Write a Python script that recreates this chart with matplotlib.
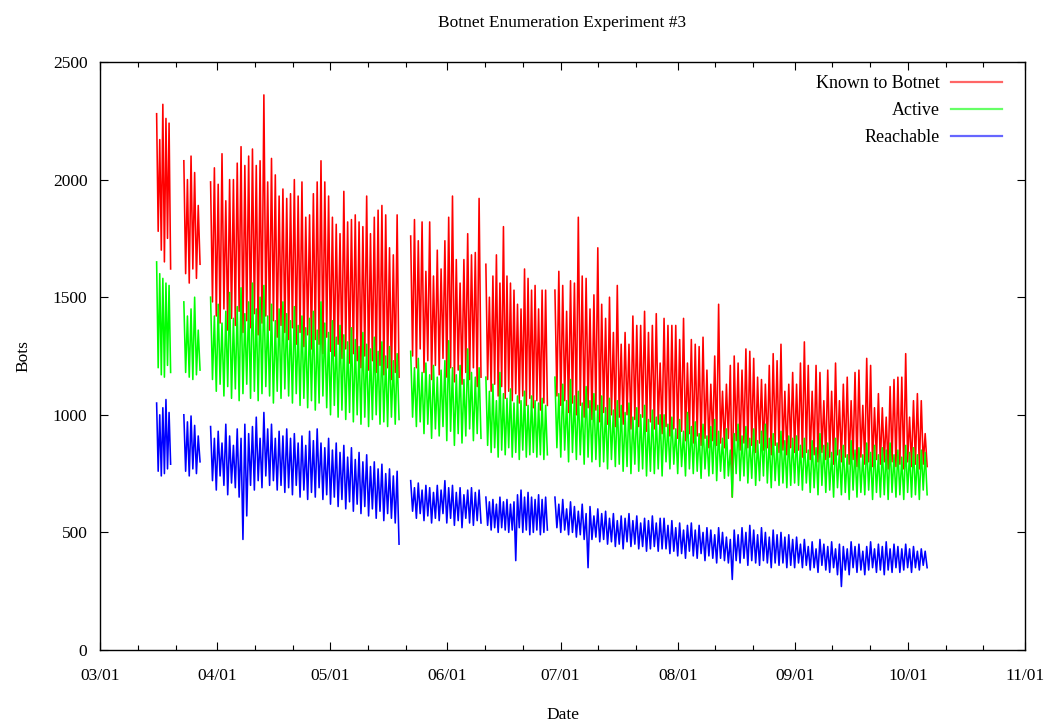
#!/usr/bin/env python3
"""
Botnet enumeration experiment #3 -- bots known / active / reachable over time.
Values are daily peak/trough pairs read off the original gnuplot figure.
"""

import numpy as np
import pandas as pd
import matplotlib
matplotlib.use("Agg")
import matplotlib.pyplot as plt
import matplotlib.dates as mdates

plt.rcParams["font.family"] = ["Liberation Serif", "DejaVu Serif"]

# ── DATA ────────────────────────────────────────────────────────────────────
# measurement runs (the crawler was down between them)
SEG_START = ["2008-03-16 00:00", "2008-03-23 05:00", "2008-03-30 07:00",
             "2008-05-22 07:00", "2008-06-11 05:00", "2008-06-29 12:00"]
SEG_END   = ["2008-03-19 17:00", "2008-03-27 12:00", "2008-05-19 05:00",
             "2008-06-09 22:00", "2008-06-27 12:00", "2008-10-06 02:00"]

# Known to Botnet: daily peaks / troughs per run
KNOWN_HI = [
    [2280, 2170, 2320, 2260, 2240],
    [2080, 2000, 2100, 2030, 1890],
    [1990, 2050, 1980, 2110, 1910, 2000, 2000, 2070, 2140, 2060, 2100, 2130, 2060, 2080, 2360, 1990, 2090, 2020, 1930, 1960,
     1920, 1940, 2000, 1930, 1990, 1840, 1850, 1940, 1990, 2080, 1990, 1930, 1840, 1810, 1770, 1950, 1820, 1830, 1850, 1820,
     1800, 1930, 1770, 1840, 1870, 1890, 1850, 1710, 1680, 1850],
    [1760, 1830, 1740, 1820, 1610, 1820, 1590, 1700, 1620, 1740, 1840, 1930, 1660, 1560, 1660, 1770, 1680, 1690, 1920],
    [1640, 1500, 1590, 1680, 1560, 1800, 1590, 1560, 1530, 1470, 1450, 1620, 1580, 1530, 1550, 1450, 1530, 1530],
    [1530, 1610, 1550, 1440, 1570, 1560, 1840, 1590, 1580, 1450, 1510, 1710, 1470, 1410, 1500, 1350, 1550, 1300, 1350, 1300,
     1420, 1380, 1380, 1440, 1350, 1380, 1430, 1220,
     1410, 1380, 1380, 1380, 1320, 1410, 1220, 1320, 1300, 1290, 1330, 1190, 1130, 1250, 1470, 1100, 1130, 1210, 1250, 1220,
     1190, 1280, 1270, 1240, 1160, 1150, 1130, 1210, 1260, 1230, 1300, 1100, 1130, 1180,
     1130, 1220, 1310, 1210, 1100, 1210, 1180, 1060, 1190, 1100, 1220, 1060, 1130, 1160, 1060, 1180, 1190, 1040, 1240, 1210,
     1030, 1090, 1030, 990, 1120, 1150, 1160, 1160, 1260, 990, 1060, 1090, 1060, 920],
]
KNOWN_LO = [
    [1780, 1700, 1650, 1750, 1620],
    [1600, 1560, 1620, 1580, 1640],
    [1480, 1420, 1390, 1450, 1360, 1410, 1380, 1440, 1350, 1400, 1370, 1430, 1340, 1390, 1420, 1360, 1400, 1330, 1380, 1350,
     1320, 1370, 1300, 1350, 1290, 1340, 1280, 1320, 1300, 1260, 1330, 1270, 1250, 1300, 1240, 1280, 1220, 1260, 1230, 1200,
     1250, 1190, 1230, 1180, 1210, 1170, 1200, 1150, 1180, 1160],
    [1250, 1200, 1280, 1180, 1230, 1150, 1210, 1170, 1240, 1160, 1200, 1140, 1190, 1130, 1180, 1150, 1200, 1120, 1160],
    [1150, 1100, 1130, 1080, 1120, 1070, 1100, 1060, 1090, 1050, 1080, 1040, 1070, 1030, 1060, 1020, 1050, 1040],
    [1080, 1040, 1060, 1010, 1050, 1000, 1040, 990, 1030, 980, 1020, 970, 1010, 960, 1000, 950, 990, 960, 1000, 940,
     980, 950, 990, 930, 970, 940, 960, 920,
     950, 910, 940, 900, 930, 890, 920, 880, 910, 870, 900, 860, 890, 870, 880, 860, 900, 650, 890, 850,
     880, 860, 870, 840, 880, 850, 860, 830, 870, 840, 850, 830, 860, 840,
     850, 820, 840, 810, 830, 800, 840, 810, 820, 790, 830, 800, 820, 790, 810, 780, 820, 790, 800, 780,
     810, 790, 800, 770, 800, 780, 790, 770, 800, 780, 790, 770, 790, 780],
]

# Active
ACTIVE_HI = [
    [1650, 1600, 1580, 1560, 1550],
    [1480, 1420, 1450, 1500, 1360],
    [1500, 1420, 1470, 1390, 1440, 1520, 1410, 1460, 1540, 1430, 1480, 1560, 1450, 1500, 1550, 1420, 1470, 1400, 1450, 1480,
     1430, 1400, 1460, 1380, 1420, 1370, 1410, 1440, 1360, 1480, 1390, 1350, 1400, 1330, 1380, 1340, 1310, 1370, 1320, 1290,
     1350, 1300, 1280, 1330, 1270, 1310, 1250, 1290, 1230, 1260],
    [1270, 1200, 1240, 1180, 1220, 1170, 1210, 1160, 1190, 1230, 1315, 1200, 1170, 1210, 1150, 1280, 1180, 1160, 1200],
    [1160, 1100, 1130, 1060, 1180, 1090, 1070, 1110, 1050, 1080, 1060, 1100, 1040, 1080, 1060, 1050, 1070, 1040],
    [1160, 1090, 1130, 1060, 1150, 1080, 1100, 1050, 1120, 1060, 1090, 1040, 1080, 1030, 1070, 1020, 1060, 1040, 1010, 1050,
     990, 1030, 1000, 1040, 980, 1020, 990, 1000,
     1000, 960, 990, 940, 980, 930, 1010, 950, 970, 920, 960, 910, 950, 980, 930, 900, 940, 850, 920, 960,
     910, 950, 900, 940, 890, 930, 960, 900, 920, 880, 930, 890, 910, 900,
     910, 870, 900, 850, 890, 860, 920, 870, 880, 840, 900, 850, 870, 830, 890, 850, 860, 830, 880, 840,
     870, 830, 860, 850, 880, 830, 850, 820, 870, 840, 860, 830, 850, 840],
]
ACTIVE_LO = [
    [1200, 1170, 1160, 1210, 1180],
    [1180, 1160, 1150, 1170, 1190],
    [1150, 1100, 1130, 1080, 1120, 1070, 1110, 1060, 1090, 1130, 1070, 1100, 1060, 1090, 1120, 1080, 1050, 1100, 1070, 1110,
     1080, 1050, 1090, 1040, 1070, 1030, 1060, 1020, 1050, 1080, 1030, 1000, 1040, 990, 1020, 980, 1010, 970, 1000, 960,
     990, 950, 980, 1000, 960, 970, 950, 990, 960, 980],
    [990, 950, 970, 920, 960, 900, 940, 910, 950, 890, 930, 870, 920, 880, 910, 940, 890, 920, 900],
    [870, 840, 860, 820, 850, 830, 860, 820, 840, 810, 850, 820, 830, 840, 820, 830, 810, 830],
    [860, 820, 850, 800, 840, 810, 830, 790, 820, 800, 810, 780, 800, 770, 810, 780, 790, 760, 780, 750,
     790, 760, 770, 740, 760, 750, 770, 740,
     800, 770, 790, 750, 780, 740, 770, 750, 760, 730, 770, 740, 750, 720, 760, 730, 740, 650, 750, 720,
     740, 710, 730, 700, 720, 740, 710, 690, 720, 700, 710, 690, 700, 710,
     700, 680, 710, 670, 690, 660, 700, 670, 680, 650, 690, 660, 670, 640, 680, 650, 670, 660, 680, 640,
     670, 650, 660, 640, 670, 650, 660, 640, 670, 650, 660, 640, 680, 660],
]

# Reachable
REACH_HI = [
    [1050, 1000, 1030, 1065, 1010],
    [1000, 970, 995, 955, 910],
    [950, 900, 930, 880, 960, 910, 870, 940, 900, 960, 920, 950, 990, 900, 1010, 940, 960, 900, 930, 910,
     940, 900, 920, 880, 910, 870, 930, 890, 940, 880, 860, 900, 850, 880, 840, 870, 820, 860, 810, 840,
     800, 830, 780, 800, 770, 790, 750, 770, 740, 760],
    [720, 690, 710, 680, 700, 690, 670, 700, 680, 720, 690, 700, 670, 690, 660, 680, 690, 670, 680],
    [650, 630, 640, 620, 650, 630, 640, 620, 630, 660, 680, 650, 670, 650, 640, 660, 640, 650],
    [650, 620, 640, 600, 630, 610, 590, 620, 580, 610, 570, 600, 580, 590, 560, 580, 550, 570, 560, 580,
     550, 570, 540, 560, 550, 570, 540, 560,
     560, 530, 550, 520, 540, 510, 530, 540, 510, 530, 500, 520, 510, 490, 520, 500, 480, 470, 510, 490,
     520, 500, 530, 510, 490, 520, 500, 480, 510, 490, 500, 480, 490, 470,
     480, 450, 470, 440, 460, 430, 470, 450, 440, 460, 430, 450, 440, 430, 460, 440, 450, 420, 440, 460,
     430, 450, 440, 460, 430, 450, 440, 430, 450, 430, 440, 420, 430, 420],
]
REACH_LO = [
    [760, 740, 750, 770, 790],
    [760, 740, 770, 750, 800],
    [720, 680, 740, 700, 660, 710, 690, 650, 470, 570, 700, 680, 720, 690, 740, 700, 720, 680, 700, 670,
     690, 660, 700, 650, 680, 640, 670, 650, 690, 640, 660, 620, 650, 610, 640, 600, 630, 590, 620, 580,
     610, 570, 600, 560, 590, 550, 580, 560, 540, 450],
    [590, 560, 580, 550, 570, 540, 560, 550, 580, 540, 560, 530, 550, 520, 560, 540, 530, 550, 540],
    [530, 510, 520, 500, 520, 510, 500, 510, 380, 520, 500, 510, 490, 500, 510, 490, 500, 510],
    [520, 500, 510, 490, 500, 480, 490, 470, 350, 470, 480, 460, 470, 450, 460, 440, 450, 430, 460, 440,
     450, 430, 440, 420, 430, 440, 420, 430,
     430, 410, 420, 400, 410, 390, 420, 400, 390, 410, 380, 400, 390, 370, 390, 380, 370, 300, 380, 370,
     390, 360, 380, 370, 360, 380, 370, 350, 370, 360, 370, 350, 360, 350,
     370, 350, 360, 340, 350, 330, 360, 340, 330, 350, 320, 270, 340, 320, 350, 330, 340, 320, 340, 350,
     330, 340, 320, 340, 330, 350, 330, 340, 350, 330, 350, 340, 360, 350],
]

SERIES = [
    ("Known to Botnet", KNOWN_HI, KNOWN_LO, "#ff0000"),
    ("Active", ACTIVE_HI, ACTIVE_LO, "#00ff00"),
    ("Reachable", REACH_HI, REACH_LO, "#0000ff"),
]
# ────────────────────────────────────────────────────────────────────────────


def build_series(his, los):
    """Interleave peaks/troughs per run, NaN between runs so gaps stay empty."""
    xs, ys = [], []
    for start, end, hi, lo in zip(SEG_START, SEG_END, his, los):
        assert len(hi) == len(lo)
        vals = np.column_stack([hi, lo]).ravel().astype(float)
        t = pd.date_range(start, end, periods=len(vals))
        xs.extend(list(t) + [t[-1] + pd.Timedelta(hours=1)])
        ys.extend(list(vals) + [np.nan])
    return xs, ys


fig = plt.figure(figsize=(10.57, 7.24), dpi=100)
ax = fig.add_axes([0.0946, 0.1022, 0.8751, 0.8122])

for label, his, los, color in SERIES:
    xs, ys = build_series(his, los)
    ax.plot(xs, ys, color=color, linewidth=1.15, label=label)

ax.set_xlim(pd.Timestamp("2008-03-01"), pd.Timestamp("2008-11-01"))
ax.set_ylim(0, 2500)
ax.set_yticks(np.arange(0, 2501, 500))
ax.xaxis.set_major_locator(mdates.MonthLocator())
ax.xaxis.set_minor_locator(mdates.DayLocator(bymonthday=[11, 21]))
ax.xaxis.set_major_formatter(mdates.DateFormatter("%m/%d"))

ax.tick_params(which="both", direction="in", top=True, right=True, width=0.8, labelsize=12.5)
ax.tick_params(which="major", length=6)
ax.tick_params(which="minor", length=3.5)
ax.tick_params(axis="x", which="major", pad=13)
ax.tick_params(axis="y", which="major", pad=9)
for sp in ax.spines.values():
    sp.set_linewidth(1.0)

ax.set_xlabel("Date", fontsize=12.5, labelpad=16.5)
ax.set_ylabel("Bots", fontsize=12.5, labelpad=15.5)
ax.set_title("Botnet Enumeration Experiment #3", fontsize=12.5, pad=25.5)

leg = ax.legend(loc="upper right", bbox_to_anchor=(1.0, 1.017), frameon=False,
                markerfirst=False, fontsize=13, handlelength=2.8, handletextpad=0.6,
                labelspacing=0.55, borderaxespad=0.9)
for line in leg.get_lines():
    line.set_linewidth(1.6)
    line.set_alpha(0.6)

plt.savefig("out.png", dpi=100)
